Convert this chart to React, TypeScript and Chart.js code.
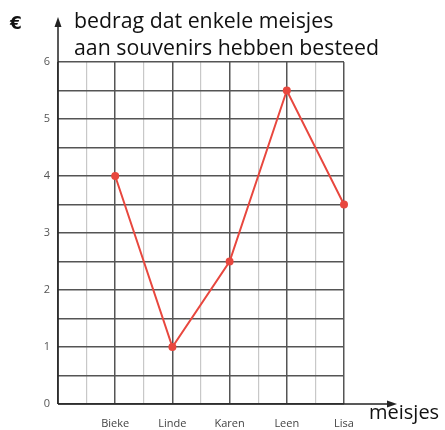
import React, { useEffect, useRef } from "react";
import { Chart, registerables } from "chart.js";
Chart.register(...registerables);

const categories = ["Bieke", "Linde", "Karen", "Leen", "Lisa"];
const amounts = [4, 1, 2.5, 5.5, 3.5];
const titleLines = ["bedrag dat enkele meisjes", "aan souvenirs hebben besteed"];
const yUnit = "€";
const xUnit = "meisjes";

const arrowsPlugin = {
  id: "arrows",
  afterDraw(chart: any) {
    const ctx = chart.ctx;
    const x = chart.scales.x;
    const y = chart.scales.y;
    const x0 = x.getPixelForValue(0);
    const y0 = y.getPixelForValue(0);
    ctx.save();
    ctx.strokeStyle = "#222";
    ctx.fillStyle = "#222";
    ctx.lineWidth = 1.5;
    // vertical axis
    ctx.beginPath();
    ctx.moveTo(x0, y0);
    ctx.lineTo(x0, 24);
    ctx.stroke();
    ctx.beginPath();
    ctx.moveTo(x0, 17);
    ctx.lineTo(x0 - 3.5, 27);
    ctx.lineTo(x0 + 3.5, 27);
    ctx.closePath();
    ctx.fill();
    // horizontal axis
    ctx.beginPath();
    ctx.moveTo(x0, y0);
    ctx.lineTo(390, y0);
    ctx.stroke();
    ctx.beginPath();
    ctx.moveTo(397, y0);
    ctx.lineTo(387, y0 - 3.5);
    ctx.lineTo(387, y0 + 3.5);
    ctx.closePath();
    ctx.fill();
    // texts
    ctx.fillStyle = "#111";
    ctx.font = "21.3px 'Open Sans'";
    ctx.textBaseline = "alphabetic";
    ctx.textAlign = "left";
    ctx.fillText(titleLines[0], 74, 28);
    ctx.fillText(titleLines[1], 74, 55);
    ctx.font = "bold 17px 'DejaVu Sans'";
    ctx.fillText(yUnit, 10, 29);
    ctx.font = "20px 'Open Sans'";
    ctx.fillText(xUnit, 369, 419);
    ctx.restore();
  },
};

export default function App() {
  const ref = useRef<HTMLCanvasElement | null>(null);
  useEffect(() => {
    if (!ref.current) return;
    const chart = new Chart(ref.current, {
      type: "line",
      data: {
        datasets: [
          {
            data: amounts.map((v, i) => ({ x: i + 1, y: v })),
            borderColor: "#e8473e",
            backgroundColor: "#e8473e",
            borderWidth: 2,
            pointRadius: 4,
            pointBorderWidth: 0,
            tension: 0,
            clip: false,
          },
        ],
      },
      options: {
        animation: false,
        responsive: false,
        layout: { padding: { left: 0, top: 62, right: 101, bottom: 0 } },
        plugins: { legend: { display: false }, tooltip: { enabled: false } },
        scales: {
          x: {
            type: "linear",
            min: 0,
            max: 5,
            afterFit(scale: any) {
              scale.height = 26;
            },
            afterBuildTicks(scale: any) {
              const t = [];
              for (let v = 0; v <= 5; v += 0.5) t.push({ value: v });
              scale.ticks = t;
            },
            border: { display: false },
            grid: {
              drawTicks: false,
              color: (c: any) =>
                c.tick && Number.isInteger(c.tick.value) ? "#555" : "#c8c8c8",
              lineWidth: (c: any) =>
                c.tick && Number.isInteger(c.tick.value) ? 1.5 : 1.2,
            },
            ticks: {
              autoSkip: false,
              maxRotation: 0,
              padding: 13,
              color: "#444",
              font: { size: 11, family: "'Open Sans'" },
              callback: (v: any) =>
                Number.isInteger(v) && v >= 1 ? categories[v - 1] : "",
            },
          },
          y: {
            min: 0,
            max: 6,
            afterFit(scale: any) {
              scale.width = 58;
            },
            afterBuildTicks(scale: any) {
              const t = [];
              for (let v = 0; v <= 6; v += 0.5) t.push({ value: v });
              scale.ticks = t;
            },
            border: { display: false },
            grid: { drawTicks: false, color: "#555", lineWidth: 1.5 },
            ticks: {
              autoSkip: false,
              padding: 8,
              color: "#555",
              font: { size: 11, family: "'Open Sans'" },
              callback: (v: any) => (Number.isInteger(v) ? String(v) : ""),
            },
          },
        },
      },
      plugins: [arrowsPlugin],
    } as any);
    return () => chart.destroy();
  }, []);
  return (
    <div style={{ position: "fixed", left: 0, top: 0, width: 445, height: 430, background: "#fff" }}>
      <canvas ref={ref} width={445} height={430} style={{ width: 445, height: 430 }} />
    </div>
  );
}
